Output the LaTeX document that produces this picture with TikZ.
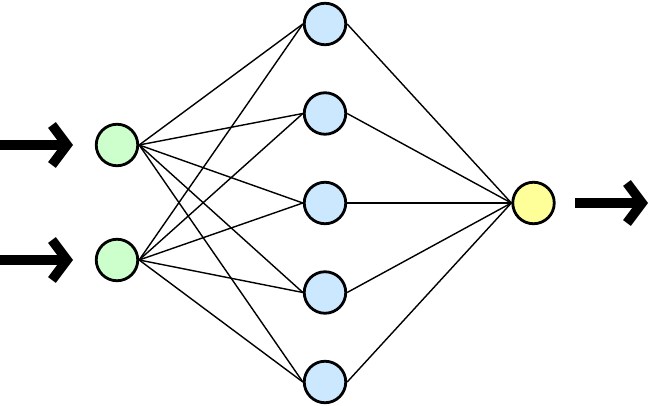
\documentclass[tikz,border=0pt]{standalone}
\usepackage{tikz}
\usetikzlibrary{arrows.meta}
\definecolor{ingreen}{RGB}{204,255,204}
\definecolor{hidblue}{RGB}{204,232,255}
\definecolor{outyellow}{RGB}{255,255,153}
\tikzstyle{neuron}=[circle, minimum size=8.3mm, inner sep=0mm, draw=black, line width=1.6pt]
\tikzstyle{innode}=[neuron, fill=ingreen]
\tikzstyle{hidnode}=[neuron, fill=hidblue]
\tikzstyle{outnode}=[neuron, fill=outyellow]
\tikzstyle{link}=[line width=.8pt]
\tikzstyle{bigarrow}=[line width=5.5pt, -{Straight Barb[length=3mm, width=8mm]}]

\begin{document}
\begin{tikzpicture}

      \useasboundingbox (0,0) rectangle (13,8.12);

      \node[innode] (x1) at (2.34,5.22) {};
      \node[innode] (x2) at (2.34,2.92) {};
      \node[hidnode] (h1) at (6.5,7.64) {};
      \node[hidnode] (h2) at (6.5,5.85) {};
      \node[hidnode] (h3) at (6.5,4.06) {};
      \node[hidnode] (h4) at (6.5,2.27) {};
      \node[hidnode] (h5) at (6.5,0.48) {};
      \node[outnode] (y1) at (10.67,4.06) {};

      \coordinate (a1) at (0,5.22);
      \coordinate (a2) at (1.46,5.22);
      \coordinate (b1) at (0,2.92);
      \coordinate (b2) at (1.46,2.92);
      \coordinate (c1) at (11.5,4.06);
      \coordinate (c2) at (12.96,4.06);

      % input to hidden
      \draw[link] (x1.east) -- (h1.west);
      \draw[link] (x1.east) -- (h2.west);
      \draw[link] (x1.east) -- (h3.west);
      \draw[link] (x1.east) -- (h4.west);
      \draw[link] (x1.east) -- (h5.west);
      \draw[link] (x2.east) -- (h1.west);
      \draw[link] (x2.east) -- (h2.west);
      \draw[link] (x2.east) -- (h3.west);
      \draw[link] (x2.east) -- (h4.west);
      \draw[link] (x2.east) -- (h5.west);

      % hidden to output
      \draw[link] (h1.east) -- (y1.west);
      \draw[link] (h2.east) -- (y1.west);
      \draw[link] (h3.east) -- (y1.west);
      \draw[link] (h4.east) -- (y1.west);
      \draw[link] (h5.east) -- (y1.west);

      \draw[bigarrow] (a1) -- (a2);
      \draw[bigarrow] (b1) -- (b2);
      \draw[bigarrow] (c1) -- (c2);

    \end{tikzpicture}
\end{document}
